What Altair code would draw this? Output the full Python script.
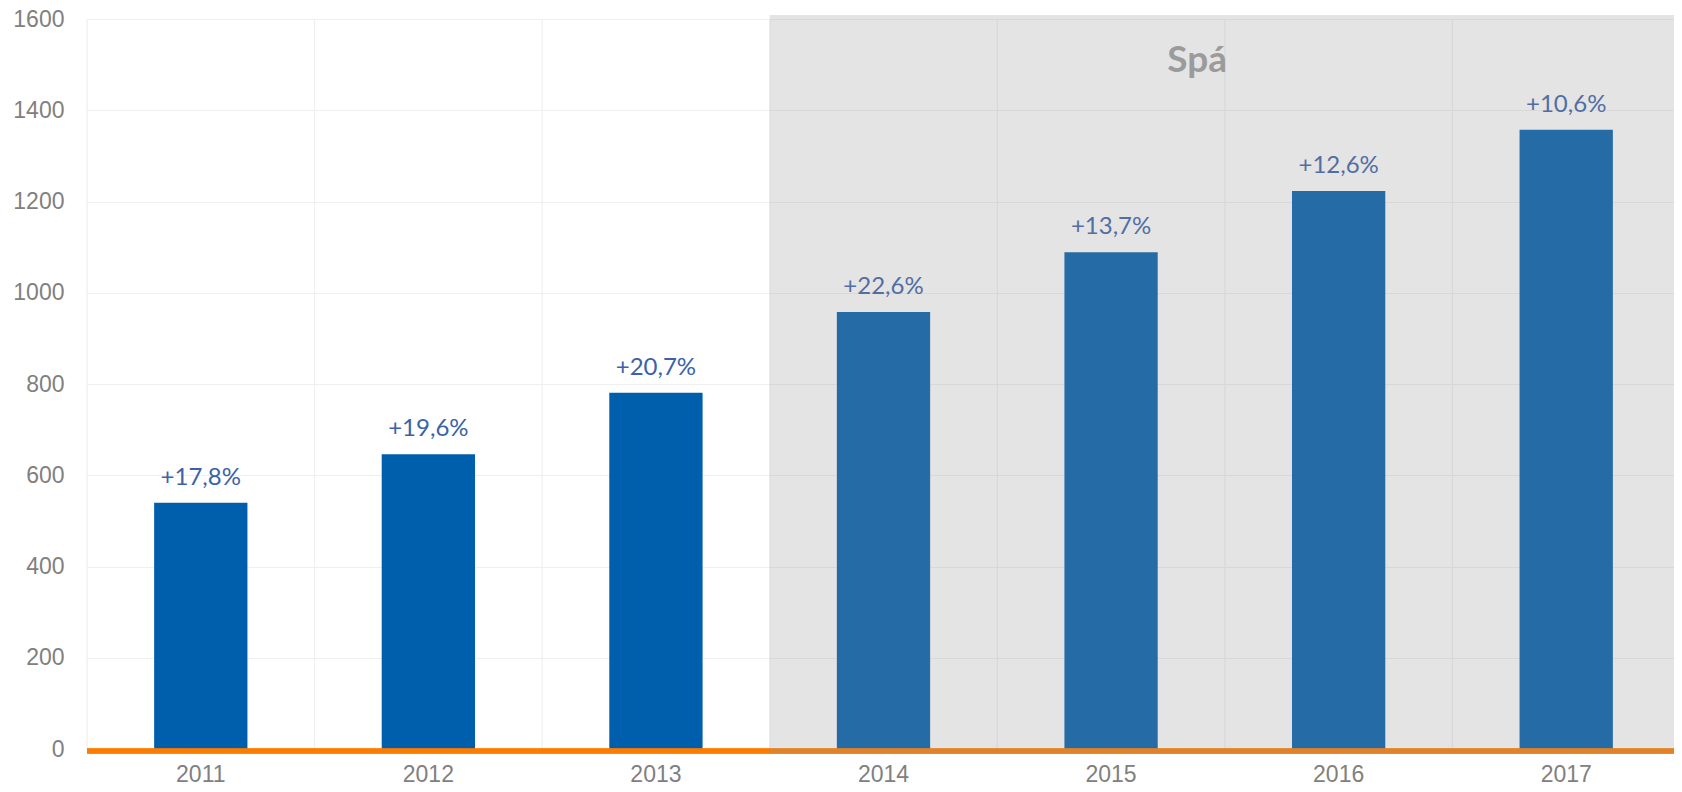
import altair as alt
import pandas as pd

years = ["2011", "2012", "2013", "2014", "2015", "2016", "2017"]
values = [540, 646, 781, 958, 1089, 1223, 1357]
growth_labels = ["+17,8%", "+19,6%", "+20,7%", "+22,6%", "+13,7%", "+12,6%", "+10,6%"]
forecast_start = ["2014"]
forecast_text = "Spá"
y_ticks = [0, 200, 400, 600, 800, 1000, 1200, 1400, 1600]

W, H = 1587, 730
RANGE_W = 1593

df = pd.DataFrame({"year": years, "value": values, "label": growth_labels})
shade_df = pd.DataFrame({"year": forecast_start})
spa_df = pd.DataFrame({"year": ["2015"], "value": [1484], "txt": [forecast_text]})

xscale = alt.Scale(paddingInner=0, paddingOuter=0, range=[0, RANGE_W])
yscale = alt.Scale(domain=[0, 1600])

base = alt.Chart(df)

bars = base.mark_bar(color="#005FAD", width={"band": 0.41}).encode(
    x=alt.X("year:N", scale=xscale, sort=years,
            axis=alt.Axis(title=None, labelFont="Liberation Sans", labelFontSize=23,
                          labelColor="#808080", ticks=False, domain=False, grid=False,
                          labelPadding=25, labelAngle=0, labelAlign="center",
                          bandPosition=0.5)),
    y=alt.Y("value:Q", scale=yscale,
            axis=alt.Axis(title=None, values=y_ticks, format="d",
                          labelFont="Liberation Sans",
                          labelFontSize=23, labelColor="#808080", ticks=False,
                          domain=False, grid=True, gridColor="#EFEFEF", gridWidth=1.2,
                          labelPadding=23)),
)

vgrid = base.mark_rule(color="#EFEFEF", strokeWidth=1.2).encode(
    x=alt.X("year:N", scale=xscale, sort=years, bandPosition=0),
    y=alt.value(0),
    y2=alt.value(H),
)

labels = base.mark_text(font="Lato", fontSize=24, color="#3A62AA",
                        baseline="alphabetic", dy=-18).encode(
    x=alt.X("year:N", scale=xscale, sort=years),
    y=alt.Y("value:Q", scale=yscale),
    text="label:N",
)

orange = alt.Chart(df).mark_rule(color="#FA7D00", strokeWidth=4.5).encode(
    x=alt.value(0), x2=alt.value(RANGE_W), y=alt.value(H + 2),
)

overlay = alt.Chart(shade_df).mark_rect(color="#949494", opacity=0.25).encode(
    x=alt.X("year:N", scale=xscale, sort=years, bandPosition=0),
    x2=alt.value(RANGE_W + 2),
    y=alt.value(-4),
    y2=alt.value(H + 5),
)

spa = alt.Chart(spa_df).mark_text(font="Lato", fontWeight="bold", fontSize=37,
                                  color="#9B9B9B", baseline="alphabetic", dx=86).encode(
    x=alt.X("year:N", scale=xscale, sort=years),
    y=alt.Y("value:Q", scale=yscale),
    text="txt:N",
)

chart = alt.layer(vgrid, bars, labels, orange, overlay, spa).properties(
    width=W, height=H,
    autosize=alt.AutoSizeParams(type="none"),
    padding={"left": 79, "top": 11, "right": 0, "bottom": 35},
    background="white",
).configure_view(stroke=None)

chart.save("out.html", embed_options={"renderer": "svg", "actions": False})
